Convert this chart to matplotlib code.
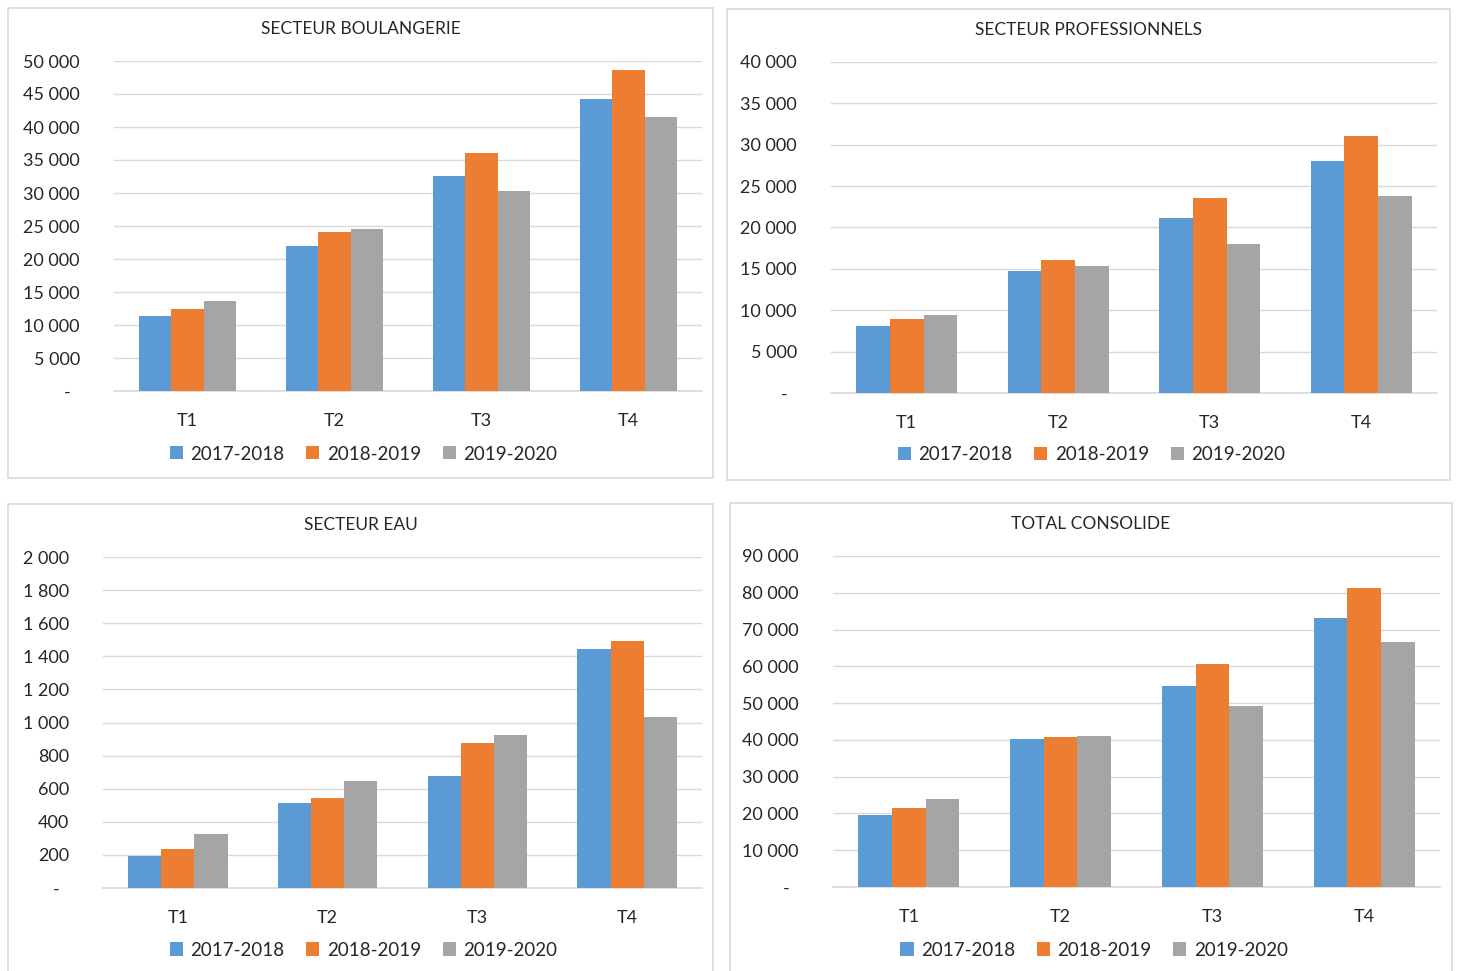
import numpy as np
import matplotlib.pyplot as plt
from matplotlib.patches import Rectangle
from matplotlib.ticker import FuncFormatter, MultipleLocator

# Quarterly figures per sector, three fiscal years
quarters = ["T1", "T2", "T3", "T4"]
years = ["2017-2018", "2018-2019", "2019-2020"]
colors = ["#5B9BD5", "#ED7D31", "#A5A5A5"]

boulangerie_1718 = [11400, 21900, 32600, 44200]
boulangerie_1819 = [12400, 24100, 36100, 48700]
boulangerie_1920 = [13600, 24600, 30350, 41500]

pro_1718 = [8100, 14700, 21100, 28050]
pro_1819 = [8950, 16050, 23600, 31000]
pro_1920 = [9450, 15350, 18000, 23750]

eau_1718 = [193, 514, 677, 1444]
eau_1819 = [234, 544, 877, 1494]
eau_1920 = [325, 645, 927, 1032]

total_1718 = [19700, 40300, 54700, 73100]
total_1819 = [21500, 40650, 60600, 81200]
total_1920 = [23800, 41050, 49200, 66500]

W, H = 1457, 971
fig = plt.figure(figsize=(W / 100, H / 100), dpi=100)
plt.rcParams['font.family'] = ['Lato', 'DejaVu Sans']


def px(x0, y0, x1, y1):
    """pixel box (top-left origin) -> figure fraction rect"""
    return [x0 / W, 1 - y1 / H, (x1 - x0) / W, (y1 - y0) / H]


def fmt(v, pos):
    if v == 0:
        return "-  "
    return "{:,.0f}".format(v).replace(",", " ")


panels = [
    dict(title="SECTEUR BOULANGERIE", data=[boulangerie_1718, boulangerie_1819, boulangerie_1920],
         frame=(8, 8, 713, 478), ax=(114, 61, 702, 391), ymax=50000, step=5000, leg_y=454),
    dict(title="SECTEUR PROFESSIONNELS", data=[pro_1718, pro_1819, pro_1920],
         frame=(727, 9, 1450, 480), ax=(831, 62, 1437, 393), ymax=40000, step=5000, leg_y=455),
    dict(title="SECTEUR EAU", data=[eau_1718, eau_1819, eau_1920],
         frame=(8, 504, 713, 975), ax=(103, 557, 702, 888), ymax=2000, step=200, leg_y=950),
    dict(title="TOTAL CONSOLIDE", data=[total_1718, total_1819, total_1920],
         frame=(730, 503, 1452, 975), ax=(833, 556, 1440, 887), ymax=90000, step=10000, leg_y=950),
]

x = np.arange(len(quarters))
width = 0.222

for p in panels:
    fx0, fy0, fx1, fy1 = p["frame"]
    fig.patches.append(Rectangle((fx0 / W, 1 - fy1 / H), (fx1 - fx0) / W, (fy1 - fy0) / H,
                                 transform=fig.transFigure, fill=False,
                                 edgecolor="#D9D9D9", linewidth=1.2))
    fig.text((fx0 + fx1) / 2 / W, 1 - (fy0 + 21) / H, p["title"], ha="center", va="center",
             fontsize=12.5, color="#262626")

    ax = fig.add_axes(px(*p["ax"]))
    for i, (vals, yr, c) in enumerate(zip(p["data"], years, colors)):
        ax.bar(x + (i - 1) * width, vals, width, color=c, label=yr, zorder=3)

    ax.set_xlim(-0.5, 3.5)
    ax.set_ylim(0, p["ymax"])
    ax.yaxis.set_major_locator(MultipleLocator(p["step"]))
    ax.yaxis.set_major_formatter(FuncFormatter(fmt))
    ax.set_xticks(x)
    ax.set_xticklabels(quarters)
    ax.grid(axis="y", color="#D9D9D9", linewidth=1, zorder=0)
    for s in ["top", "right", "left"]:
        ax.spines[s].set_visible(False)
    ax.spines["bottom"].set_color("#D9D9D9")
    ax.spines["bottom"].set_linewidth(1.2)
    ax.tick_params(axis="both", length=0, labelsize=13, colors="#262626")
    ax.tick_params(axis="x", pad=16)
    ax.tick_params(axis="y", pad=24.5)

    # legend centred under the whole panel frame
    handles, labels = ax.get_legend_handles_labels()
    fig.legend(handles, labels, loc="center",
               bbox_to_anchor=((fx0 + fx1 + 6) / 2 / W, 1 - p["leg_y"] / H), ncol=3, frameon=False,
               fontsize=13.5, handlelength=0.7, handleheight=0.7, handletextpad=0.4,
               columnspacing=1.15, labelcolor="#262626")

plt.savefig("out.png", dpi=100)
